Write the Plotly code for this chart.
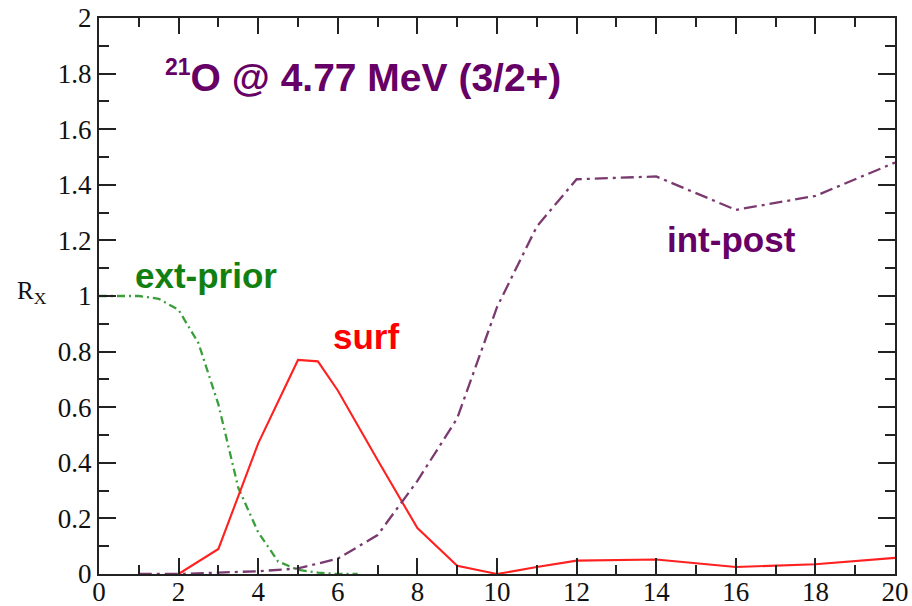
import plotly.graph_objects as go

# ---- data ----
x_ext = [0, 0.5, 1, 1.5, 2, 2.5, 3, 3.5, 4, 4.5, 5, 5.5, 6, 6.5]
y_ext = [1.0, 1.0, 1.0, 0.99, 0.95, 0.83, 0.61, 0.31, 0.15, 0.045, 0.015, 0.005, 0.0, 0.0]

x_surf = [2, 3, 4, 5, 5.5, 6, 7, 8, 9, 10, 11, 12, 14, 16, 18, 20]
y_surf = [0.0, 0.09, 0.47, 0.77, 0.765, 0.66, 0.41, 0.165, 0.03, 0.0, 0.025, 0.048, 0.052, 0.025, 0.035, 0.058]

x_int = [1, 2, 3, 4, 5, 6, 7, 8, 9, 10, 11, 12, 14, 16, 18, 20]
y_int = [0.0, 0.0, 0.005, 0.01, 0.02, 0.055, 0.14, 0.335, 0.56, 0.96, 1.25, 1.42, 1.43, 1.31, 1.36, 1.48]

x_ticks = list(range(0, 21, 2))
y_ticks = [round(0.2 * i, 1) for i in range(11)]

fig = go.Figure()
fig.add_trace(go.Scatter(x=x_ext, y=y_ext, mode="lines",
                         line=dict(color="#3a9e3a", width=2.3, dash="8px,4px,2px,4px"),
                         name="ext-prior"))
fig.add_trace(go.Scatter(x=x_surf, y=y_surf, mode="lines",
                         line=dict(color="#ff2020", width=2.1),
                         name="surf"))
fig.add_trace(go.Scatter(x=x_int, y=y_int, mode="lines",
                         line=dict(color="#7a3a70", width=2.3, dash="13px,5px,3px,5px"),
                         name="int-post"))

axis_common = dict(
    showline=True, linecolor="#222222", linewidth=2,
    mirror="ticks", ticks="inside", tickcolor="#222222", tickwidth=2,
    showgrid=False, zeroline=False, automargin=False,
    tickfont=dict(family="Liberation Serif, Times New Roman, serif", size=27, color="#111111"),
)

fig.update_xaxes(range=[0, 20], tickvals=x_ticks, ticklen=16, ticklabelstandoff=-7,
                 minor=dict(dtick=1, ticks="inside", ticklen=9, tickcolor="#222222", tickwidth=2),
                 **axis_common)
fig.update_yaxes(range=[0, 2], tickvals=y_ticks, ticklen=17, ticklabelstandoff=0,
                 minor=dict(dtick=0.1, ticks="inside", ticklen=10, tickcolor="#222222", tickwidth=2),
                 **axis_common)

sans = "Liberation Sans, Arial, sans-serif"
serif = "Liberation Serif, Times New Roman, serif"
fig.add_annotation(x=1.6, y=1.79, xref="x", yref="y", xanchor="left", yanchor="middle",
                   text="<sup><span style='font-size:23px'>21</span></sup>O @ 4.77 MeV (3/2+)",
                   showarrow=False,
                   font=dict(family=sans, size=39, color="#660066", weight="bold"))
fig.add_annotation(x=2.69, y=1.075, xref="x", yref="y", text="ext-prior", showarrow=False,
                   font=dict(family=sans, size=35, color="#118011", weight="bold"))
fig.add_annotation(x=6.71, y=0.856, xref="x", yref="y", text="surf", showarrow=False,
                   font=dict(family=sans, size=35, color="#ff0000", weight="bold"))
fig.add_annotation(x=15.9, y=1.205, xref="x", yref="y", text="int-post", showarrow=False,
                   font=dict(family=sans, size=35, color="#660066", weight="bold"))
# axis title R_X
fig.add_annotation(x=(15 - 99) / 796, y=(574 - 292) / 556, xref="paper", yref="paper",
                   xanchor="left", text="R<sub>X</sub>", showarrow=False,
                   font=dict(family=serif, size=25, color="#111111"))

fig.update_layout(
    width=912, height=606,
    margin=dict(l=99, r=17, t=18, b=32),
    paper_bgcolor="white", plot_bgcolor="white",
    showlegend=False,
)

fig.write_html("out.html")
